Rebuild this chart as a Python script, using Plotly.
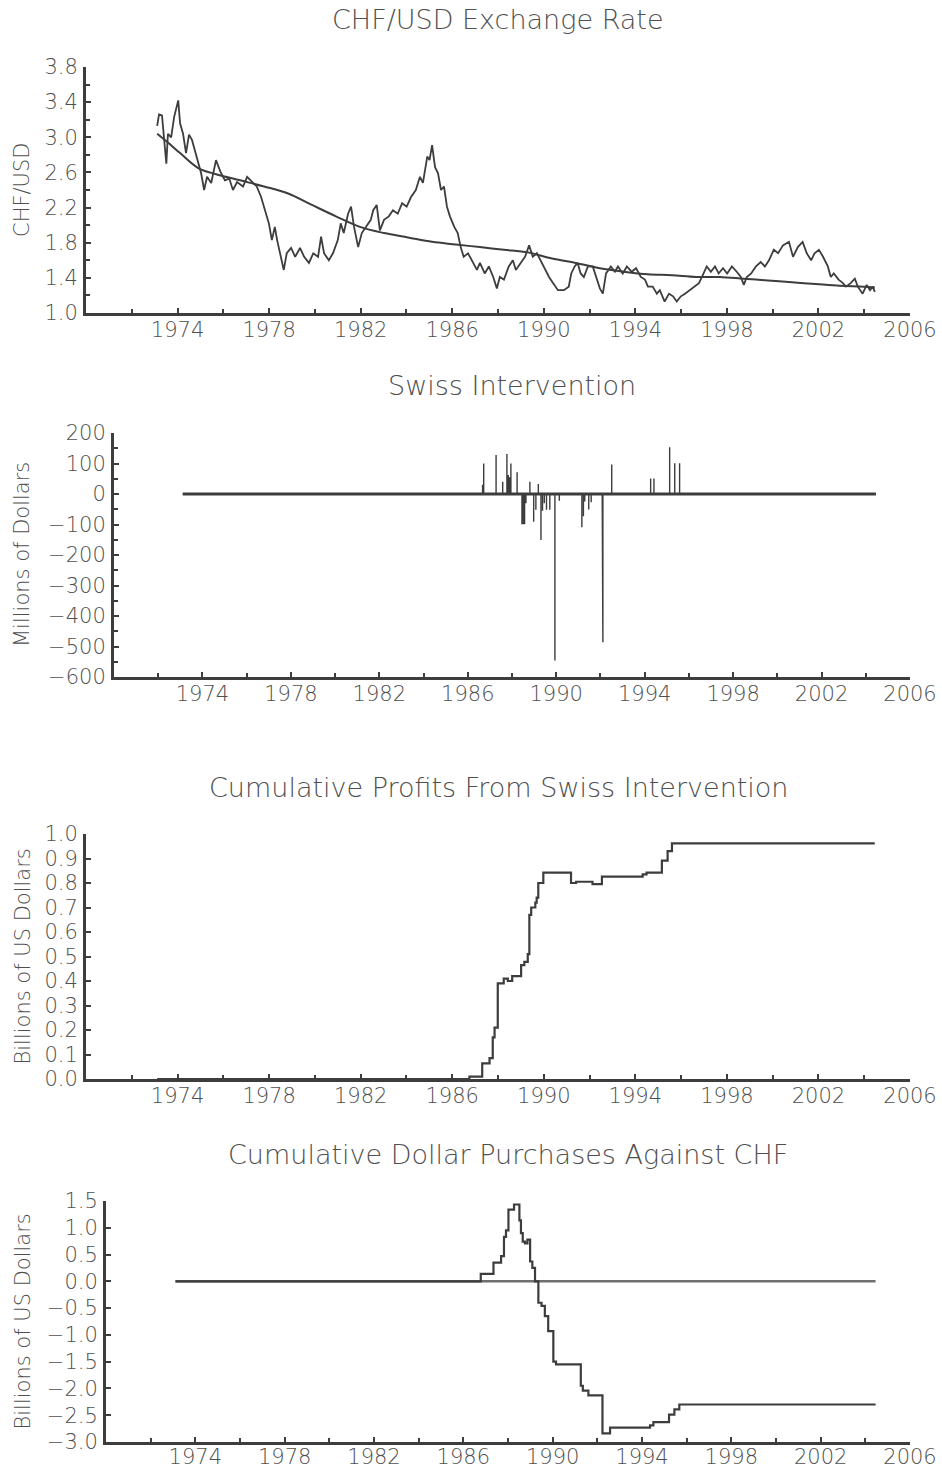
import plotly.graph_objects as go

# --- data --------------------------------------------------------------

# CHF/USD exchange rate (decimal year, rate)
rate_dates = [
    1973.11, 1973.19, 1973.32, 1973.40, 1973.51, 1973.58, 1973.72, 1973.85, 1974.03, 1974.11,
    1974.24, 1974.37, 1974.50, 1974.63, 1974.82, 1975.03, 1975.16, 1975.29, 1975.47, 1975.68,
    1975.87, 1976.07, 1976.26, 1976.42, 1976.60, 1976.86, 1977.04, 1977.25, 1977.46, 1977.65,
    1977.78, 1977.99, 1978.12, 1978.25, 1978.35, 1978.51, 1978.64, 1978.77, 1978.96, 1979.14,
    1979.35, 1979.53, 1979.74, 1979.93, 1980.14, 1980.27, 1980.40, 1980.61, 1980.79, 1981.00,
    1981.13, 1981.26, 1981.45, 1981.58, 1981.71, 1981.89, 1982.05, 1982.23, 1982.44, 1982.55,
    1982.70, 1982.84, 1983.02, 1983.23, 1983.41, 1983.62, 1983.81, 1984.01, 1984.20, 1984.41,
    1984.59, 1984.72, 1984.91, 1985.01, 1985.12, 1985.25, 1985.38, 1985.51, 1985.64, 1985.77,
    1985.90, 1986.09, 1986.24, 1986.37, 1986.50, 1986.69, 1986.90, 1987.08, 1987.21, 1987.42,
    1987.60, 1987.79, 1987.95, 1988.08, 1988.26, 1988.47, 1988.65, 1988.78, 1988.99, 1989.18,
    1989.36, 1989.52, 1989.70, 1989.91, 1990.09, 1990.23, 1990.41, 1990.62, 1990.88, 1991.09,
    1991.20, 1991.35, 1991.48, 1991.61, 1991.75, 1991.93, 1992.14, 1992.32, 1992.45, 1992.58,
    1992.72, 1992.93, 1993.11, 1993.24, 1993.45, 1993.63, 1993.84, 1994.03, 1994.24, 1994.42,
    1994.55, 1994.76, 1994.94, 1995.07, 1995.28, 1995.47, 1995.65, 1995.81, 1995.99, 1996.17,
    1996.38, 1996.59, 1996.78, 1996.91, 1997.12, 1997.30, 1997.48, 1997.64, 1997.83, 1998.01,
    1998.22, 1998.43, 1998.61, 1998.74, 1998.87, 1999.06, 1999.27, 1999.48, 1999.66, 1999.84,
    2000.05, 2000.24, 2000.45, 2000.71, 2000.89, 2001.10, 2001.31, 2001.49, 2001.68, 2001.83,
    2002.02, 2002.20, 2002.41, 2002.54, 2002.67, 2002.88, 2003.07, 2003.20, 2003.41, 2003.59,
    2003.72, 2003.93, 2004.11, 2004.25, 2004.38, 2004.46,
]
rate_values = [
    3.13, 3.26, 3.25, 3.04, 2.70, 3.04, 3.00, 3.23, 3.42, 3.16,
    3.04, 2.82, 3.03, 2.97, 2.78, 2.59, 2.40, 2.55, 2.48, 2.74,
    2.61, 2.51, 2.53, 2.40, 2.49, 2.44, 2.55, 2.49, 2.44, 2.32,
    2.21, 2.02, 1.83, 1.98, 1.83, 1.64, 1.49, 1.68, 1.74, 1.64,
    1.74, 1.64, 1.57, 1.68, 1.64, 1.87, 1.68, 1.60, 1.68, 1.83,
    2.02, 1.91, 2.13, 2.21, 1.98, 1.75, 1.91, 1.98, 2.06, 2.17,
    2.23, 1.94, 2.06, 2.10, 2.17, 2.13, 2.25, 2.21, 2.32, 2.40,
    2.55, 2.48, 2.78, 2.74, 2.91, 2.66, 2.59, 2.40, 2.44, 2.21,
    2.10, 1.98, 1.91, 1.75, 1.64, 1.68, 1.57, 1.49, 1.57, 1.45,
    1.53, 1.41, 1.28, 1.41, 1.38, 1.53, 1.60, 1.49, 1.57, 1.64,
    1.77, 1.64, 1.68, 1.57, 1.49, 1.41, 1.34, 1.26, 1.26, 1.30,
    1.45, 1.53, 1.57, 1.45, 1.41, 1.53, 1.53, 1.38, 1.28, 1.22,
    1.45, 1.53, 1.47, 1.53, 1.45, 1.53, 1.47, 1.51, 1.41, 1.38,
    1.30, 1.30, 1.22, 1.26, 1.13, 1.22, 1.19, 1.13, 1.19, 1.22,
    1.26, 1.30, 1.34, 1.41, 1.53, 1.47, 1.53, 1.45, 1.51, 1.45,
    1.53, 1.47, 1.41, 1.32, 1.41, 1.45, 1.53, 1.58, 1.53, 1.60,
    1.72, 1.68, 1.77, 1.81, 1.64, 1.75, 1.81, 1.68, 1.60, 1.68,
    1.72, 1.64, 1.53, 1.41, 1.45, 1.38, 1.34, 1.30, 1.34, 1.39,
    1.30, 1.22, 1.32, 1.26, 1.30, 1.24,
]

# smooth trend drawn over the rate
trend_dates = [
    1973.11, 1973.58, 1974.11, 1974.90, 1975.68, 1976.73, 1977.78, 1978.83, 1979.87, 1980.92,
    1981.97, 1983.02, 1984.07, 1985.12, 1986.16, 1987.21, 1988.26, 1989.31, 1990.36, 1991.40,
    1992.45, 1993.50, 1994.55, 1995.60, 1996.65, 1997.69, 1998.74, 1999.79, 2000.84, 2001.88,
    2002.93, 2003.98, 2004.46,
]
trend_values = [
    3.04, 2.94, 2.82, 2.65, 2.58, 2.51, 2.44, 2.36, 2.23, 2.10,
    1.98, 1.91, 1.86, 1.81, 1.78, 1.75, 1.72, 1.69, 1.62, 1.57,
    1.51, 1.47, 1.44, 1.43, 1.41, 1.41, 1.39, 1.37, 1.35, 1.33,
    1.31, 1.30, 1.29,
]

# Swiss intervention days (millions of dollars)
iv_dates = [
    1986.67, 1986.72, 1987.28, 1987.58, 1987.77, 1987.83, 1987.89, 1987.95, 1988.23, 1988.45,
    1988.51, 1988.57, 1988.63, 1988.81, 1988.98, 1989.08, 1989.19, 1989.31, 1989.38, 1989.46,
    1989.56, 1989.71, 1989.94, 1990.14, 1991.16, 1991.23, 1991.29, 1991.47, 1991.58, 1992.08,
    1992.11, 1992.51, 1994.27, 1994.42, 1995.13, 1995.36, 1995.58,
]
iv_amounts = [
    30, 100, 128, 40, 131, 62, 55, 100, 71, -99,
    -99, -99, -30, 40, -91, -52, 33, -151, -55, -30,
    -52, -52, -546, -22, -109, -73, -25, -51, -27, -200,
    -486, 97, 51, 51, 153, 101, 101,
]

# cumulative profits (billions of US dollars), step series
profit_dates = [
    1973.11, 1986.75, 1987.31, 1987.63, 1987.77, 1987.85, 1987.99, 1988.25, 1988.43, 1988.62,
    1989.01, 1989.15, 1989.30, 1989.37, 1989.45, 1989.63, 1989.69, 1989.76, 1989.98, 1991.19,
    1991.41, 1992.13, 1992.54, 1994.32, 1994.49, 1995.16, 1995.41, 1995.60, 2004.46,
]
profit_values = [
    0.0, 0.01, 0.064, 0.085, 0.17, 0.21, 0.39, 0.41, 0.40, 0.42,
    0.465, 0.478, 0.51, 0.67, 0.70, 0.72, 0.74, 0.80, 0.842, 0.80,
    0.805, 0.795, 0.826, 0.835, 0.842, 0.891, 0.93, 0.962, 0.962,
]

# cumulative dollar purchases against CHF (billions), step series
purch_dates = [
    1973.11, 1986.78, 1987.35, 1987.69, 1987.82, 1987.91, 1988.02, 1988.27, 1988.51, 1988.58,
    1988.66, 1988.76, 1988.87, 1988.99, 1989.09, 1989.21, 1989.36, 1989.50, 1989.65, 1989.80,
    1990.03, 1990.15, 1991.26, 1991.35, 1991.60, 1992.23, 1992.57, 1994.36, 1994.51, 1995.21,
    1995.45, 1995.67, 2004.46,
]
purch_values = [
    0.0, 0.14, 0.35, 0.47, 0.83, 0.95, 1.34, 1.435, 1.14, 0.90,
    0.74, 0.71, 0.78, 0.37, 0.25, 0.0, -0.40, -0.46, -0.65, -0.93,
    -1.50, -1.55, -1.95, -2.04, -2.13, -2.84, -2.73, -2.69, -2.63, -2.49,
    -2.39, -2.30, -2.30,
]

titles = [
    "CHF/USD Exchange Rate",
    "Swiss Intervention",
    "Cumulative Profits From Swiss Intervention",
    "Cumulative Dollar Purchases Against CHF",
]
y_titles = ["CHF/USD", "Millions of Dollars", "Billions of US Dollars", "Billions of US Dollars"]
year_ticks = list(range(1974, 2007, 4))

# --- figure --------------------------------------------------------------

W, H = 942, 1471
INK = "#3d3d3d"
TXT = "#4f4f4f"
FONT = "DejaVu Sans"

# panel boxes in pixels: left, right, top, bottom
boxes = [(86, 910, 67, 313), (114, 910, 433, 677), (86, 910, 834, 1079), (106, 910, 1201, 1442)]
y_ranges = [[1.0, 3.8], [-600, 200], [0.0, 1.0], [-3.0, 1.5]]
y_dticks = [0.4, 100, 0.1, 0.5]
y_minor = [0.2, 50, None, None]
y_formats = [".1f", "d", ".1f", ".1f"]
x_label_standoff = [-4, -4, -4, -6]

fig = go.Figure()

fig.add_trace(go.Scatter(x=rate_dates, y=rate_values, mode="lines",
                         line=dict(color=INK, width=1.8), xaxis="x", yaxis="y"))
fig.add_trace(go.Scatter(x=trend_dates, y=trend_values, mode="lines", line_shape="spline",
                         line=dict(color=INK, width=2), xaxis="x", yaxis="y"))

# intervention impulses
iv_x, iv_y = [rate_dates[0]], [0]
for t, v in zip(iv_dates, iv_amounts):
    iv_x += [t, t, t]
    iv_y += [0, v, 0]
iv_x.append(rate_dates[-1])
iv_y.append(0)
fig.add_trace(go.Scatter(x=[rate_dates[0], rate_dates[-1]], y=[0, 0], mode="lines",
                         line=dict(color=INK, width=3), xaxis="x2", yaxis="y2"))
fig.add_trace(go.Scatter(x=iv_x, y=iv_y, mode="lines",
                         line=dict(color=INK, width=1.4), xaxis="x2", yaxis="y2"))

fig.add_trace(go.Scatter(x=profit_dates, y=profit_values, mode="lines", line_shape="hv",
                         line=dict(color=INK, width=2.2), xaxis="x3", yaxis="y3"))

fig.add_trace(go.Scatter(x=[purch_dates[0], purch_dates[-1]], y=[0, 0], mode="lines",
                         line=dict(color="#707070", width=2.5), xaxis="x4", yaxis="y4"))
fig.add_trace(go.Scatter(x=purch_dates, y=purch_values, mode="lines", line_shape="hv",
                         line=dict(color=INK, width=2.2), xaxis="x4", yaxis="y4"))

layout = dict(
    template="none",
    width=W, height=H, margin=dict(l=0, r=0, t=0, b=0),
    paper_bgcolor="white", plot_bgcolor="white", showlegend=False,
    font=dict(family=FONT, color=TXT, size=20, weight=200),
    annotations=[],
)

for i, (l, r, t, b) in enumerate(boxes):
    n = "" if i == 0 else str(i + 1)
    layout["xaxis" + n] = dict(
        domain=[l / W, r / W], range=[1970, 2006], anchor="y" + n,
        tickvals=year_ticks, ticks="inside", ticklen=5, tickwidth=1.5, tickcolor=INK,
        showline=True, linecolor=INK, linewidth=3, showgrid=False, zeroline=False,
        automargin=False, tickfont=dict(size=21), ticklabelstandoff=x_label_standoff[i],
        minor=dict(dtick=2, tick0=1970, ticks="inside", ticklen=4, tickcolor=INK, showgrid=False),
    )
    ydict = dict(
        domain=[1 - b / H, 1 - t / H], range=y_ranges[i], anchor="x" + n,
        dtick=y_dticks[i], tick0=y_ranges[i][0], tickformat=y_formats[i],
        ticks="inside", ticklen=5, tickwidth=1.5, tickcolor=INK,
        showline=True, linecolor=INK, linewidth=3, showgrid=False, zeroline=False,
        automargin=False, tickfont=dict(size=21), ticklabelstandoff=1,
    )
    if y_minor[i]:
        ydict["minor"] = dict(dtick=y_minor[i], ticks="inside", ticklen=4, tickcolor=INK, showgrid=False)
    layout["yaxis" + n] = ydict

    layout["annotations"].append(dict(
        text=titles[i], xref="paper", yref="paper", x=(l + r) / 2 / W, y=1 - (t - 47) / H,
        xanchor="center", yanchor="middle", showarrow=False, font=dict(size=27),
    ))
    layout["annotations"].append(dict(
        text=y_titles[i], xref="paper", yref="paper", x=22 / W, y=1 - (t + b) / 2 / H,
        xanchor="center", yanchor="middle", textangle=-90, showarrow=False, font=dict(size=21),
    ))

fig.update_layout(**layout)

# the page body has a default 8px margin; drop it so the figure fills the window
fig.write_html("out.html", config={"displayModeBar": False},
               post_script="document.body.style.margin='0';")
